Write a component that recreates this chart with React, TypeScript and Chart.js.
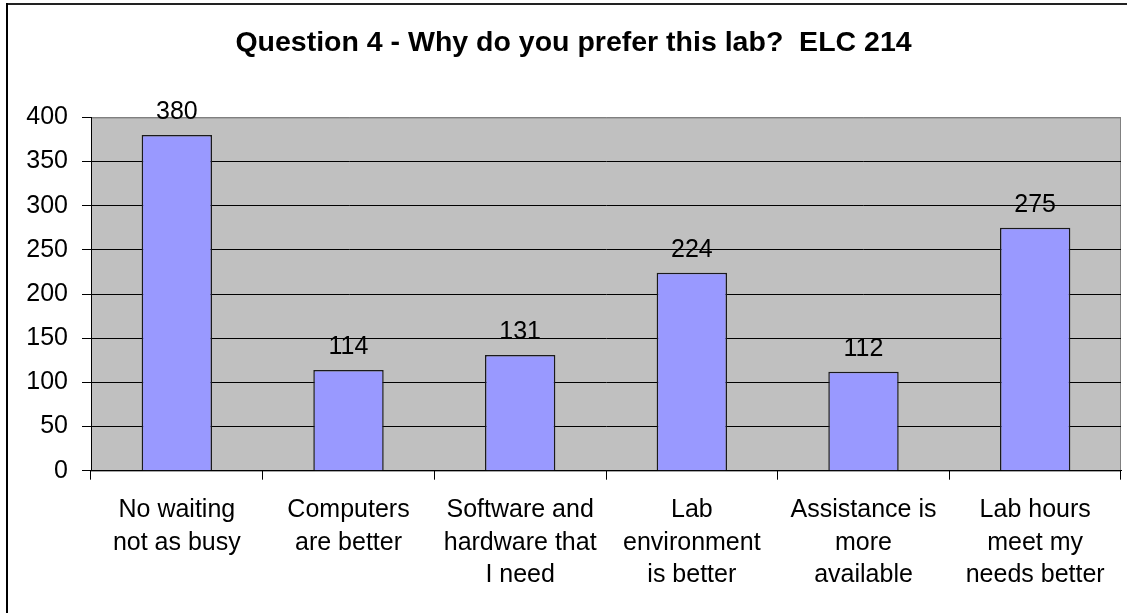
import React, { useEffect, useRef } from "react";
import { Chart, registerables } from "chart.js";

Chart.register(...registerables);

const TITLE = "Question 4 - Why do you prefer this lab?  ELC 214";
const categories: string[][] = [
  ["No waiting", "not as busy"],
  ["Computers", "are better"],
  ["Software and", "hardware that", "I need"],
  ["Lab", "environment", "is better"],
  ["Assistance is", "more", "available"],
  ["Lab hours", "meet my", "needs better"],
];
const counts: number[] = [380, 114, 131, 224, 112, 275];
const yMin = 0;
const yMax = 400;
const yStep = 50;

const FONT = "'Liberation Sans', Arial, sans-serif";

const framePlugin = {
  id: "frameAndBg",
  beforeDraw(chart: any) {
    const { ctx, chartArea, width, height } = chart;
    ctx.save();
    ctx.fillStyle = "#ffffff";
    ctx.fillRect(0, 0, width, height);
    // outer frame (top and left visible)
    ctx.fillStyle = "#222222";
    ctx.fillRect(6, 3, width, 2);
    ctx.fillStyle = "#000000";
    ctx.fillRect(6, 3, 2, height);
    // plot area
    ctx.fillStyle = "#C0C0C0";
    ctx.fillRect(chartArea.left, chartArea.top, chartArea.right - chartArea.left, chartArea.bottom - chartArea.top);
    ctx.strokeStyle = "#808080";
    ctx.lineWidth = 1;
    ctx.strokeRect(chartArea.left + 0.5, chartArea.top + 0.5, chartArea.right - chartArea.left - 1, chartArea.bottom - chartArea.top);
    ctx.restore();
  },
};

const valueLabelPlugin = {
  id: "valueLabels",
  afterDatasetsDraw(chart: any) {
    const { ctx } = chart;
    const meta = chart.getDatasetMeta(0);
    const data = chart.data.datasets[0].data;
    ctx.save();
    ctx.font = `25px ${FONT}`;
    ctx.fillStyle = "#000";
    ctx.textAlign = "center";
    ctx.textBaseline = "alphabetic";
    meta.data.forEach((bar: any, i: number) => {
      ctx.fillText(String(data[i]), bar.x, bar.y - 16);
    });
    ctx.restore();
  },
};

export default function App() {
  const ref = useRef<HTMLCanvasElement | null>(null);
  useEffect(() => {
    if (!ref.current) return;
    const chart = new Chart(ref.current, {
      type: "bar",
      data: {
        labels: categories,
        datasets: [
          {
            data: counts,
            backgroundColor: "#9999FF",
            borderColor: "#1a1a1a",
            borderWidth: 1.5,
            barPercentage: 0.41,
            categoryPercentage: 1,
          },
        ],
      },
      options: {
        responsive: false,
        animation: false,
        devicePixelRatio: 1,
        layout: { padding: { left: 26, right: 6, top: 0, bottom: 0 } },
        plugins: {
          legend: { display: false },
          tooltip: { enabled: false },
          title: {
            display: true,
            text: TITLE,
            color: "#000",
            font: { family: FONT, size: 28.5, weight: "bold" },
            padding: { top: 26, bottom: 57.2 },
          },
        },
        scales: {
          x: {
            offset: true,
            grid: {
              display: true,
              drawOnChartArea: false,
              drawTicks: true,
              tickLength: 9,
              color: "#000",
              offset: true,
            },
            border: { display: true, color: "#000", width: 1 },
            ticks: {
              color: "#000",
              font: { family: FONT, size: 25, lineHeight: 1.31 },
              padding: 14,
              maxRotation: 0,
              minRotation: 0,
              autoSkip: false,
            },
            afterFit(s: any) {
              s.height = 142.3;
            },
          },
          y: {
            min: yMin,
            max: yMax,
            grid: {
              color: (c: any) => (c.tick && c.tick.value === yMax ? "#808080" : "#000"),
              tickColor: "#000",
              tickLength: 9,
            },
            border: { display: true, color: "#000", width: 1 },
            ticks: {
              stepSize: yStep,
              color: "#000",
              font: { family: FONT, size: 25 },
              padding: 14,
            },
            afterFit(s: any) {
              s.width = 65;
            },
          },
        },
      },
      plugins: [framePlugin, valueLabelPlugin],
    });
    return () => chart.destroy();
  }, []);
  return (
    <div style={{ position: "absolute", left: 0, top: 0, width: 1127, height: 613, overflow: "hidden", background: "#fff" }}>
      <canvas ref={ref} width={1127} height={613} style={{ display: "block" }} />
    </div>
  );
}
